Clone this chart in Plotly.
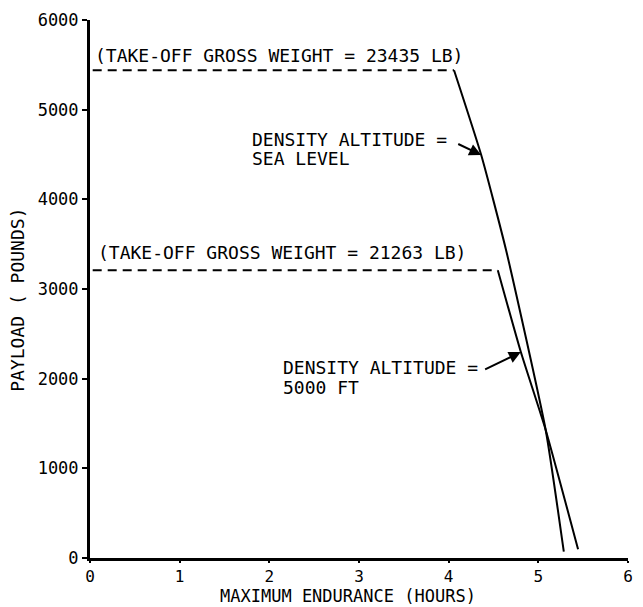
import plotly.graph_objects as go

# Payload vs. maximum endurance, two density altitudes
SEA_LEVEL_X = [4.06, 4.363, 4.640, 5.082, 5.284]
SEA_LEVEL_Y = [5440, 4494, 3435, 1428, 70]
SEA_LEVEL_CAP = 5440          # payload limit at 23435 lb TOGW

ALT5000_X = [4.548, 4.805, 5.082, 5.443]
ALT5000_Y = [3210, 2297, 1428, 97]
ALT5000_CAP = 3210            # payload limit at 21263 lb TOGW

X_TICKS = [0, 1, 2, 3, 4, 5, 6]
Y_TICKS = [0, 1000, 2000, 3000, 4000, 5000, 6000]

FONT = "DejaVu Sans Mono"
INK = "black"

fig = go.Figure()

# dashed payload caps
fig.add_trace(go.Scatter(x=[0.03, SEA_LEVEL_X[0]], y=[SEA_LEVEL_CAP, SEA_LEVEL_CAP],
                         mode="lines", line=dict(color=INK, width=2, dash="9px,6px"),
                         hoverinfo="skip", showlegend=False))
fig.add_trace(go.Scatter(x=[0.03, ALT5000_X[0]], y=[ALT5000_CAP, ALT5000_CAP],
                         mode="lines", line=dict(color=INK, width=2, dash="9px,6px"),
                         hoverinfo="skip", showlegend=False))

# endurance-limited curves
fig.add_trace(go.Scatter(x=SEA_LEVEL_X, y=SEA_LEVEL_Y, mode="lines",
                         line=dict(color=INK, width=2, shape="spline", smoothing=0.5),
                         showlegend=False))
fig.add_trace(go.Scatter(x=ALT5000_X, y=ALT5000_Y, mode="lines",
                         line=dict(color=INK, width=2, shape="spline", smoothing=0.5),
                         showlegend=False))

txt = dict(family=FONT, size=18, color=INK)


def label(x, y, text):
    fig.add_annotation(x=x, y=y, xref="x", yref="y", text=text, showarrow=False,
                       xanchor="left", yanchor="middle", font=txt)


label(0.035, 5600, "(TAKE-OFF GROSS WEIGHT = 23435 LB)")
label(0.07, 3405, "(TAKE-OFF GROSS WEIGHT = 21263 LB)")
label(1.78, 4665, "DENSITY ALTITUDE =")
label(1.78, 4450, "SEA LEVEL")
label(2.125, 2122, "DENSITY ALTITUDE =")
label(2.125, 1900, "5000 FT")

# leader arrows onto the curves
fig.add_annotation(x=SEA_LEVEL_X[1], y=SEA_LEVEL_Y[1], ax=4.09, ay=4625,
                   xref="x", yref="y", axref="x", ayref="y", text="",
                   showarrow=True, arrowhead=2, arrowsize=1.2, arrowwidth=2,
                   arrowcolor=INK, standoff=0)
fig.add_annotation(x=ALT5000_X[1], y=ALT5000_Y[1], ax=4.39, ay=2095,
                   xref="x", yref="y", axref="x", ayref="y", text="",
                   showarrow=True, arrowhead=2, arrowsize=1.2, arrowwidth=2,
                   arrowcolor=INK, standoff=0)

# axis titles
fig.add_annotation(x=0.479, y=0, xref="paper", yref="paper", yshift=-38,
                   text="MAXIMUM ENDURANCE (HOURS)", showarrow=False,
                   xanchor="center", yanchor="middle", borderpad=0,
                   font=dict(family=FONT, size=17, color=INK))
fig.add_annotation(x=0, y=0.48, xref="paper", yref="paper", xshift=-72,
                   text="PAYLOAD ( POUNDS)", showarrow=False, textangle=-90,
                   xanchor="center", yanchor="middle", font=txt)

fig.update_xaxes(range=[0, 6], tickvals=X_TICKS, ticktext=[str(v) for v in X_TICKS],
                 showline=True, linewidth=3, linecolor=INK, mirror=False,
                 ticks="outside", ticklen=2, tickwidth=2, tickcolor=INK,
                 showgrid=False, zeroline=False,
                 tickfont=dict(family=FONT, size=16, color=INK))
fig.update_yaxes(range=[0, 6000], tickvals=Y_TICKS, ticktext=[str(v) for v in Y_TICKS],
                 showline=True, linewidth=3, linecolor=INK, mirror=False,
                 ticks="outside", ticklen=5, tickwidth=2, tickcolor=INK,
                 showgrid=False, zeroline=False,
                 tickfont=dict(family=FONT, size=17, color=INK))

fig.update_layout(width=643, height=607, autosize=False,
                  margin=dict(l=90, r=10, t=20, b=49),
                  paper_bgcolor="white", plot_bgcolor="white",
                  showlegend=False)

fig.write_html("out.html")
